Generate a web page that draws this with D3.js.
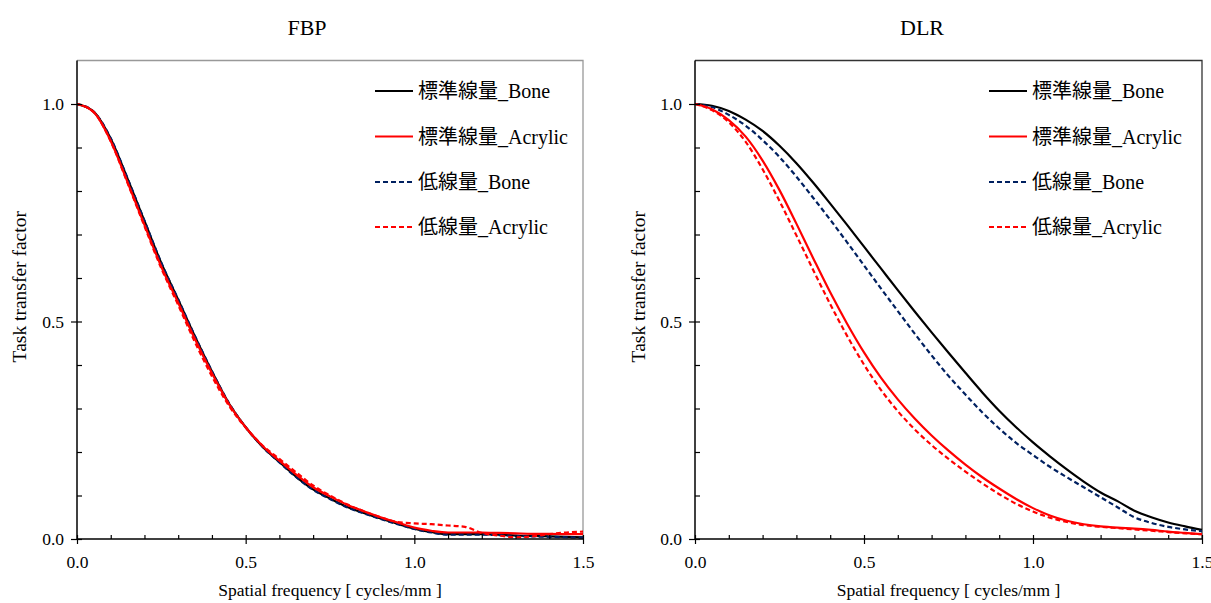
<!DOCTYPE html>
<html>
<head>
<meta charset="utf-8">
<script src="https://cdn.jsdelivr.net/npm/d3@7"></script>
<style>
  html, body { margin: 0; padding: 0; background: #fff; }
  svg { display: block; }
  text { font-family: "Liberation Serif", "Times New Roman", Times, serif; fill: #000; }
  .cjk { font-family: "Noto Sans CJK JP", "Noto Sans CJK SC", sans-serif; }
</style>
</head>
<body>
<svg id="chart" width="1211" height="603"></svg>
<script>
// ---------------- data ----------------
const freq = [0.00,0.05,0.10,0.15,0.20,0.25,0.30,0.35,0.40,0.45,0.50,0.55,0.60,0.65,0.70,0.75,
              0.80,0.85,0.90,0.95,1.00,1.05,1.10,1.15,1.20,1.25,1.30,1.35,1.40,1.45,1.50];

const seriesNames = ["標準線量_Bone", "標準線量_Acrylic", "低線量_Bone", "低線量_Acrylic"];
const panelTitles = ["FBP", "DLR"];

// FBP
const fbpStdBone     = [1.000,0.982,0.920,0.828,0.731,0.634,0.550,0.465,0.385,0.312,0.257,0.212,0.177,0.143,0.114,0.093,
                        0.074,0.060,0.047,0.035,0.024,0.016,0.011,0.011,0.011,0.010,0.008,0.007,0.006,0.005,0.004];
const fbpStdAcrylic  = [1.000,0.981,0.915,0.820,0.722,0.626,0.543,0.459,0.381,0.311,0.257,0.214,0.180,0.148,0.119,0.098,
                        0.079,0.064,0.050,0.038,0.026,0.019,0.015,0.015,0.015,0.014,0.013,0.012,0.012,0.011,0.011];
const fbpLowBone     = [1.000,0.982,0.921,0.829,0.732,0.635,0.551,0.466,0.386,0.313,0.257,0.212,0.176,0.142,0.113,0.092,
                        0.073,0.059,0.046,0.034,0.023,0.015,0.010,0.010,0.010,0.009,0.007,0.006,0.005,0.004,0.003];
const fbpLowAcrylic  = [1.000,0.981,0.914,0.818,0.719,0.622,0.538,0.452,0.374,0.307,0.256,0.215,0.184,0.153,0.123,0.100,
                        0.080,0.064,0.050,0.039,0.036,0.034,0.031,0.028,0.014,0.008,0.004,0.006,0.011,0.015,0.017];

// DLR
const dlrStdBone     = [1.000,0.996,0.984,0.964,0.938,0.904,0.864,0.819,0.771,0.722,0.672,0.622,0.572,0.523,0.475,0.428,
                        0.382,0.337,0.295,0.257,0.222,0.190,0.160,0.132,0.107,0.087,0.065,0.050,0.038,0.029,0.021];
const dlrStdAcrylic  = [1.000,0.988,0.963,0.925,0.870,0.802,0.725,0.645,0.567,0.495,0.429,0.371,0.321,0.277,0.238,0.203,
                        0.171,0.142,0.116,0.092,0.071,0.054,0.042,0.034,0.029,0.026,0.024,0.021,0.017,0.014,0.011];
const dlrLowBone     = [1.000,0.993,0.975,0.950,0.917,0.878,0.833,0.784,0.734,0.682,0.629,0.576,0.524,0.472,0.422,0.375,
                        0.332,0.291,0.254,0.221,0.193,0.166,0.142,0.119,0.096,0.073,0.050,0.037,0.028,0.022,0.018];
const dlrLowAcrylic  = [1.000,0.986,0.958,0.913,0.850,0.777,0.698,0.618,0.540,0.467,0.401,0.343,0.294,0.252,0.216,0.184,
                        0.155,0.128,0.103,0.081,0.063,0.049,0.039,0.032,0.028,0.025,0.022,0.019,0.016,0.013,0.011];

const xMajorTicks = [0, 0.5, 1.0, 1.5];
const xMinorTicks = [0.1,0.2,0.3,0.4,0.6,0.7,0.8,0.9,1.1,1.2,1.3,1.4];
const yMajorTicks = [0, 0.5, 1.0];
const yMinorTicks = [0.1,0.2,0.3,0.4,0.6,0.7,0.8,0.9];

const xLabel = "Spatial frequency [ cycles/mm ]";
const yLabel = "Task transfer factor";

// ---------------- layout / style ----------------
const styles = [
  { color: "#000000", dash: null },
  { color: "#ff0000", dash: null },
  { color: "#002060", dash: "5,3" },
  { color: "#ff0000", dash: "5,3" }
];
const drawOrder = [0, 2, 1, 3];

const panels = [
  { title: panelTitles[0], left: 77,  right: 583,  border: "#999999", titleX: 307,
    series: [fbpStdBone, fbpStdAcrylic, fbpLowBone, fbpLowAcrylic], legendX: 375, yLabelX: 20 },
  { title: panelTitles[1], left: 695, right: 1202, border: "#333333", titleX: 922,
    series: [dlrStdBone, dlrStdAcrylic, dlrLowBone, dlrLowAcrylic], legendX: 989, yLabelX: 639 }
];
const plotTop = 60.5, plotBottom = 539;
const legendRows = [91, 136.5, 182, 227];
const serif = '"Liberation Serif", "Times New Roman", Times, serif';

const svg = d3.select("#chart");

panels.forEach(p => {
  const x = d3.scaleLinear().domain([0, 1.5]).range([p.left, p.right]);
  const y = d3.scaleLinear().domain([0, 1.1]).range([plotBottom, plotTop]);
  const g = svg.append("g");

  g.append("path")
    .attr("d", `M${p.left},${plotTop}H${p.right}V${plotBottom}`)
    .attr("fill", "none").attr("stroke", p.border).attr("stroke-width", 1.3);

  const line = d3.line().x((d, i) => x(freq[i])).y(d => y(d)).curve(d3.curveMonotoneX);
  drawOrder.forEach(si => {
    g.append("path")
      .datum(p.series[si])
      .attr("d", line)
      .attr("fill", "none")
      .attr("stroke", styles[si].color)
      .attr("stroke-width", 2.2)
      .attr("stroke-dasharray", styles[si].dash)
      .attr("stroke-linejoin", "round");
  });

  const xAxis = g.append("g").attr("transform", `translate(0,${plotBottom})`)
    .call(d3.axisBottom(x).tickValues(xMajorTicks).tickFormat(d3.format(".1f")).tickSize(5).tickPadding(12));
  g.append("g").attr("transform", `translate(0,${plotBottom})`)
    .call(d3.axisBottom(x).tickValues(xMajorTicks.concat(xMinorTicks)).tickFormat("").tickSize(-4).tickSizeOuter(0))
    .call(s => s.select(".domain").remove());

  const yAxis = g.append("g").attr("transform", `translate(${p.left},0)`)
    .call(d3.axisLeft(y).tickValues(yMajorTicks).tickFormat(d3.format(".1f")).tickSize(6).tickPadding(7).tickSizeOuter(0));
  g.append("g").attr("transform", `translate(${p.left},0)`)
    .call(d3.axisLeft(y).tickValues(yMajorTicks.concat(yMinorTicks)).tickFormat("").tickSize(-5).tickSizeOuter(0))
    .call(s => s.select(".domain").remove());

  [xAxis, yAxis].forEach(a => {
    a.attr("font-family", null);
    a.select(".domain").attr("stroke", "#000").attr("stroke-width", 1.5);
    a.selectAll(".tick text").style("font-size", "17.5px").style("font-family", serif);
  });
  g.selectAll(".tick line").attr("stroke", "#000").attr("stroke-width", 1.2);
  xAxis.select(".domain").attr("d", `M${p.left},0H${p.right}`);
  yAxis.select(".domain").attr("d", `M0,${plotTop}V${plotBottom}`);

  g.append("text")
    .attr("x", p.titleX).attr("y", 35)
    .attr("text-anchor", "middle").style("font-size", "22px").style("font-family", serif)
    .text(p.title);

  g.append("text")
    .attr("x", (p.left + p.right) / 2).attr("y", 596)
    .attr("text-anchor", "middle").style("font-size", "17.5px").style("font-family", serif)
    .text(xLabel);
  g.append("text")
    .attr("transform", `translate(${p.yLabelX + 6},${(plotTop + plotBottom) / 2 - 13}) rotate(-90)`)
    .attr("text-anchor", "middle").style("font-size", "19.5px").style("font-family", serif)
    .text(yLabel);

  seriesNames.forEach((name, i) => {
    const ly = legendRows[i];
    g.append("line")
      .attr("x1", p.legendX).attr("x2", p.legendX + 38)
      .attr("y1", ly).attr("y2", ly)
      .attr("stroke", styles[i].color).attr("stroke-width", 2)
      .attr("stroke-dasharray", styles[i].dash);
    const parts = name.split("_");
    const t = g.append("text")
      .attr("x", p.legendX + 43).attr("y", ly + 7)
      .style("font-size", "20px");
    t.append("tspan").attr("class", "cjk").text(parts[0]);
    t.append("tspan").style("font-family", serif).text("_" + parts[1]);
  });
});
</script>
</body>
</html>
